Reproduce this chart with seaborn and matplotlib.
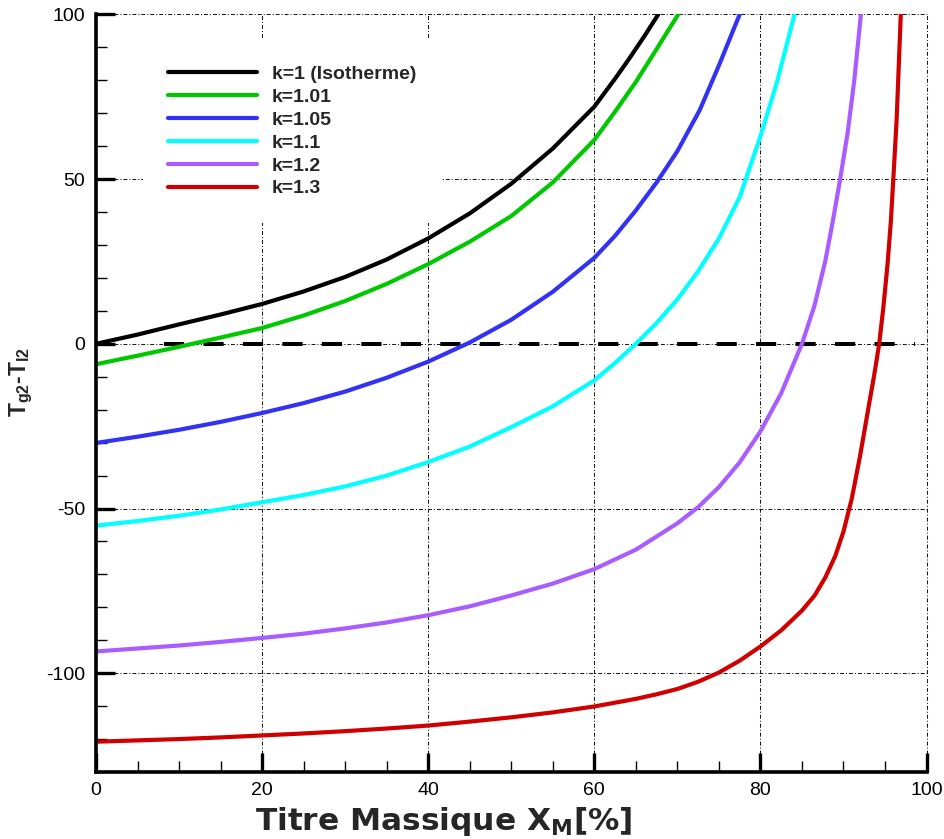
import numpy as np
import pandas as pd
import matplotlib
matplotlib.use("Agg")
import matplotlib.pyplot as plt
import seaborn as sns
from matplotlib.ticker import MultipleLocator

# ---------------- data ----------------
labels = ["k=1 (Isotherme)", "k=1.01", "k=1.05", "k=1.1", "k=1.2", "k=1.3"]
colors = ["#000000", "#00c800", "#3232f5", "#00ffff", "#a95cff", "#d00000"]

x_k100 = [0, 5, 10, 15, 20, 25, 30, 35, 40, 45, 50, 55, 60, 62.5, 64.1, 66, 67.7]
y_k100 = [0, 2.8, 5.9, 8.9, 12.1, 15.9, 20.3, 25.6, 32.0, 39.6, 48.6, 59.3, 72.0,
          80.5, 86.2, 93.3, 100]

x_k101 = [0, 5, 10, 15, 20, 25, 30, 35, 40, 45, 50, 55, 60, 62.5, 65, 67.5, 70.1]
y_k101 = [-6.2, -3.6, -0.9, 1.9, 4.8, 8.6, 13.0, 18.2, 24.2, 31.0, 38.8, 49.0, 61.9,
          70.5, 79.5, 89.5, 100]

x_k105 = [0, 5, 10, 15, 20, 25, 30, 35, 40, 45, 50, 55, 60, 62.5, 65, 67.5, 70, 72.7,
          75, 77.5]
y_k105 = [-30.1, -28.2, -26.1, -23.7, -21.0, -18.0, -14.5, -10.3, -5.4, 0.4, 7.3, 15.8,
          26.1, 32.8, 40.5, 49.0, 58.5, 71.0, 84.5, 100]

x_k110 = [0, 5, 10, 15, 20, 25, 30, 35, 40, 45, 50, 55, 60, 62.5, 65, 67.5, 70, 72.5,
          75, 77.5, 80, 82, 84.1]
y_k110 = [-55.2, -53.8, -52.2, -50.3, -48.1, -45.9, -43.3, -40.0, -35.9, -31.2, -25.3,
          -19.0, -11.1, -5.8, 0, 6.3, 13.5, 22.0, 32.0, 44.5, 63.0, 79.5, 100]

x_k120 = [0, 5, 10, 15, 20, 25, 30, 35, 40, 45, 50, 55, 60, 65, 70, 72.5, 75, 77.5, 80,
          82.5, 85, 86.5, 87.8, 88.7, 89.6, 90.5, 91.3, 92.1]
y_k120 = [-93.4, -92.5, -91.6, -90.5, -89.3, -88.0, -86.4, -84.6, -82.4, -79.7, -76.4,
          -72.8, -68.4, -62.5, -54.5, -49.6, -43.5, -36.0, -26.6, -15.0, 0, 11.5, 25.0,
          37.0, 50.0, 64.0, 80.0, 100]

x_k130 = [0, 5, 10, 15, 20, 25, 30, 35, 40, 45, 50, 55, 60, 65, 67.5, 70, 72.5, 75,
          77.5, 80, 82.5, 85, 86.5, 87.8, 89, 90, 91, 92, 93, 93.7, 94.3, 94.8, 95.3,
          95.7, 96.0, 96.4, 96.9]
y_k130 = [-120.8, -120.4, -120.0, -119.5, -118.9, -118.3, -117.6, -116.8, -115.9, -114.7,
          -113.4, -111.9, -110.1, -107.8, -106.4, -104.8, -102.6, -99.8, -96.2, -91.9,
          -87.0, -81.0, -76.5, -71.0, -64.5, -57.0, -47.0, -34.0, -19.5, -9.5, 0, 11.0,
          24.0, 37.0, 50.0, 68.0, 100]

zero_line_x = [8.2, 98.6]
zero_line_y = [0, 0]

x_ticks = [0, 20, 40, 60, 80, 100]
y_ticks = [-100, -50, 0, 50, 100]

# ---------------- build long-form table ----------------
series_x = [x_k100, x_k101, x_k105, x_k110, x_k120, x_k130]
series_y = [y_k100, y_k101, y_k105, y_k110, y_k120, y_k130]
df = pd.concat(
    [pd.DataFrame({"x": xs, "y": ys, "k": lab}) for xs, ys, lab in zip(series_x, series_y, labels)],
    ignore_index=True,
)

sns.set_style("white")
plt.rcParams["font.family"] = ["Liberation Sans", "DejaVu Sans"]
plt.rcParams["mathtext.default"] = "regular"
plt.rcParams["axes.unicode_minus"] = False

fig = plt.figure(figsize=(9.44, 8.39), dpi=100)
ax = fig.add_axes([0.10169, 0.07986, 0.8798, 0.9029])

sns.lineplot(data=df, x="x", y="y", hue="k", hue_order=labels, palette=colors,
             linewidth=3, estimator=None, sort=False, ax=ax, legend=True, zorder=3)

ax.plot(zero_line_x, zero_line_y, color="black", linewidth=2.9,
        linestyle=(0, (5, 4.8)), zorder=2.5, dash_capstyle="butt")

ax.set_xlim(0, 100)
ax.set_ylim(-130, 100)
ax.set_xticks(x_ticks)
ax.set_yticks(y_ticks)
ax.xaxis.set_minor_locator(MultipleLocator(5))
ax.yaxis.set_minor_locator(MultipleLocator(10))

ax.grid(True, which="major", color="#1a1a1a", linewidth=0.75,
        linestyle=(0, (3.8, 1.9, 1.0, 1.9)))
ax.set_axisbelow(True)
for gl in ax.get_xgridlines() + ax.get_ygridlines():
    gl.set_clip_on(False)

for side in ["top", "right"]:
    ax.spines[side].set_visible(False)
for side in ["left", "bottom"]:
    ax.spines[side].set_linewidth(2.6)
    ax.spines[side].set_color("black")
    ax.spines[side].set_zorder(4)

ax.tick_params(which="major", direction="in", length=13.5, width=2.4, color="black",
               labelsize=14, pad=7, left=True, bottom=True, top=False, right=False,
               labelcolor="black")
ax.tick_params(which="minor", direction="in", length=8, width=1.0, color="black",
               left=True, bottom=True, top=False, right=False)
ax.tick_params(axis="y", which="major", pad=8)

ax.set_xlabel("Titre Massique X$_{M}$[%]", fontsize=22.5, fontweight="bold",
              family=["DejaVu Sans"])
ax.set_ylabel("T$_{g2}$-T$_{l2}$", fontsize=16.5, fontweight="bold")
ax.xaxis.set_label_coords((444 - 96) / 830.5, -0.043)
ax.yaxis.set_label_coords((35 - 96) / 830.5, 0.515)

old = ax.get_legend()
handles = old.legend_handles
texts = [t.get_text() for t in old.get_texts()]
old.remove()
for h in handles:
    h.set_linewidth(3)
leg = ax.legend(handles, texts, loc="upper left", bbox_to_anchor=(0.0566, 0.966),
                borderaxespad=0, borderpad=1.3, frameon=True, facecolor="white",
                edgecolor="none", framealpha=1, fancybox=False,
                prop={"family": "Liberation Sans", "weight": "bold", "size": 14},
                handlelength=4.57, handletextpad=0.76, labelspacing=0.27)
leg.set_zorder(3.5)

fig.savefig("out.png", dpi=100)
